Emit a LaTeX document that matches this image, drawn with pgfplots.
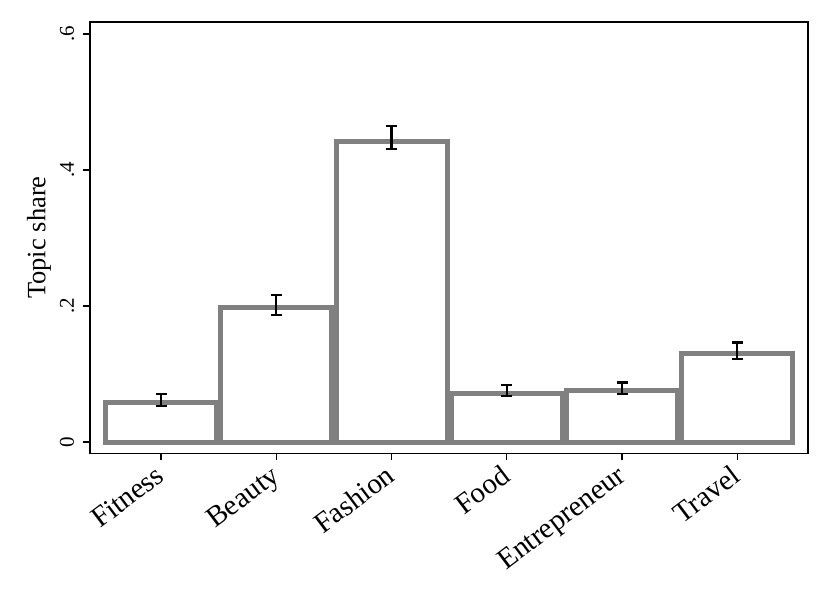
\documentclass[border=0pt]{standalone}
\usepackage{fontspec}
\setmainfont{Liberation Serif}
\usepackage{pgfplots}
\pgfplotsset{compat=1.18}
\definecolor{bargray}{RGB}{128,128,128}
\pgfplotstableread{
x bar m e
0 0.0580 0.0620 0.0088
1 0.1980 0.2015 0.0142
2 0.4426 0.4475 0.0170
3 0.0713 0.0757 0.0080
4 0.0757 0.0790 0.0086
5 0.1304 0.1340 0.0123
}\datatable
\begin{document}
\begin{tikzpicture}
\begin{axis}[
  name=ax,
  scale only axis, width=718bp, height=431.3bp,
  xmin=-0.616, xmax=5.613, ymin=-0.0166, ymax=0.6176,
  axis line style={line width=1.3bp, black},
  xtick={0,1,2,3,4,5},
  xticklabels={Fitness,Beauty,Fashion,Food,Entrepreneur,Travel},
  ytick={0,0.2,0.4,0.6}, yticklabels={0,.2,.4,.6},
  tick pos=left, tick align=outside, major tick length=7bp,
  every tick/.style={line width=1.3bp, black},
  xticklabel style={font=\fontsize{29bp}{33bp}\selectfont, inner sep=0pt, xshift=5bp, yshift=-19bp, rotate=37, anchor=base east},
  yticklabel style={font=\fontsize{21bp}{24bp}\selectfont, inner sep=0pt, xshift=-9bp, rotate=90, anchor=base},
  /pgf/number format/assume math mode=true,
  ylabel={Topic share},
  ylabel style={font=\fontsize{26.5bp}{30bp}\selectfont, at={(axis description cs:-0.0712,0.5)}, anchor=center},
  clip=false,
]
\addplot[ybar, bar width=0.963, fill=white, draw=bargray, line width=5bp, line join=miter]
  table[x=x, y=bar] {\datatable};
\addplot[draw=none, mark=none, black,
  error bars/.cd, y dir=both, y explicit,
  error bar style={line width=2.2bp, black, line cap=butt},
  error mark options={rotate=90, mark size=5.5bp, line width=2.2bp, black}]
  table[x=x, y=m, y error=e] {\datatable};
\end{axis}
\pgfresetboundingbox
\path[use as bounding box] ([shift={(-90bp,-150.7bp)}]ax.south west) rectangle ([shift={(22bp,22bp)}]ax.north east);
\end{tikzpicture}
\end{document}
